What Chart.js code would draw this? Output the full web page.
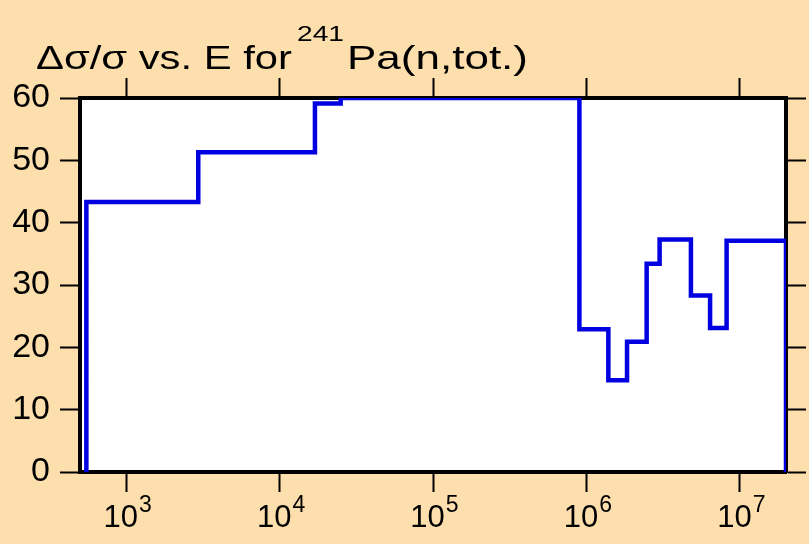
<!DOCTYPE html>
<html>
<head>
<meta charset="utf-8">
<script src="https://cdn.jsdelivr.net/npm/chart.js@4.4.1/dist/chart.umd.min.js"></script>
<style>
  html, body { margin: 0; padding: 0; background: #fddead; }
  #wrap { width: 809px; height: 544px; }
</style>
</head>
<body>
<div id="wrap"><canvas id="relErrChart" width="809" height="544"></canvas></div>
<script>
// bin lower edges (eV) and relative uncertainty (%) per bin
const binEdges = [550, 2950, 17000, 25000, 9.0e5, 1.39e6, 1.84e6, 2.47e6, 3.0e6, 4.8e6, 6.4e6, 8.2e6];
const binEnd = 2.0e7;
const relErr = [43.3, 51.3, 59.1, 60, 22.9, 14.7, 20.9, 33.4, 37.3, 28.3, 23.1, 37.1];
const decadeTicks = [1e3, 1e4, 1e5, 1e6, 1e7];
const decadeExp = ['3', '4', '5', '6', '7'];
const yTicks = [0, 10, 20, 30, 40, 50, 60];

const FONT = '"Liberation Sans", Arial, Helvetica, sans-serif';
const PEACH = '#fddead';

// step outline points (horizontal at bin value, vertical at each edge)
const stepPoints = [{ x: binEdges[0], y: 0 }]
    .concat(binEdges.map((e, i) => ({ x: e, y: relErr[i] })))
    .concat([{ x: binEnd, y: relErr[relErr.length - 1] }, { x: binEnd, y: 0 }]);

const onlyDecades = function(scale) {
    scale.ticks = decadeTicks.map(v => ({ value: v }));
};
const onlyYTicks = function(scale) {
    scale.ticks = yTicks.map(v => ({ value: v }));
};

// text squeezed/stretched to a given width (the original lettering is wide)
function fitText(ctx, text, x, y, width) {
    const w = ctx.measureText(text).width;
    ctx.save();
    ctx.translate(x, y);
    ctx.scale(width / w, 1);
    ctx.fillText(text, 0, 0);
    ctx.restore();
}

const backdrop = {
    id: 'backdrop',
    beforeDraw(chart) {
        const ctx = chart.ctx, a = chart.chartArea;
        ctx.save();
        ctx.fillStyle = PEACH;
        ctx.fillRect(0, 0, chart.width, chart.height);
        ctx.fillStyle = '#ffffff';
        ctx.fillRect(a.left, a.top, a.right - a.left, a.bottom - a.top);
        ctx.restore();
    }
};

const texts = {
    id: 'texts',
    afterDraw(chart) {
        const ctx = chart.ctx;
        ctx.save();
        ctx.fillStyle = '#000';
        ctx.textBaseline = 'alphabetic';
        ctx.textAlign = 'left';

        // title with superscript mass number
        ctx.font = '34px ' + FONT;
        fitText(ctx, '\u0394\u03c3/\u03c3 vs. E for', 36, 69, 256);
        ctx.font = '22px ' + FONT;
        fitText(ctx, '241', 297, 41, 47);
        ctx.font = '34px ' + FONT;
        fitText(ctx, 'Pa(n,tot.)', 347, 69, 181);

        // x tick labels 10^n
        const xs = chart.scales.x;
        decadeTicks.forEach((v, i) => {
            const px = xs.getPixelForValue(v);
            ctx.font = '31px ' + FONT;
            const w1 = ctx.measureText('10').width;
            ctx.font = '23px ' + FONT;
            const w2 = ctx.measureText(decadeExp[i]).width;
            const start = px - (w1 + w2) / 2 + 1;
            ctx.font = '31px ' + FONT;
            ctx.fillText('10', start, 527);
            ctx.font = '23px ' + FONT;
            ctx.fillText(decadeExp[i], start + w1 + 1, 512);
        });
        ctx.restore();
    }
};

const axisLook = {
    grid: { drawOnChartArea: false, drawTicks: true, tickLength: 20, tickWidth: 2, tickColor: '#000', color: '#000' },
    border: { display: true, color: '#000', width: 4 }
};

new Chart(document.getElementById('relErrChart'), {
    type: 'line',
    data: {
        datasets: [{
            data: stepPoints,
            stepped: 'before',
            borderColor: '#0000e0',
            borderWidth: 4.5,
            pointRadius: 0,
            fill: false
        }]
    },
    plugins: [backdrop, texts],
    options: {
        responsive: false,
        animation: false,
        events: [],
        layout: { padding: 0 },
        plugins: { legend: { display: false }, title: { display: false }, tooltip: { enabled: false } },
        scales: {
            x: {
                type: 'logarithmic', position: 'bottom', min: 500, max: binEnd,
                afterBuildTicks: onlyDecades,
                afterFit: s => { s.height = 72; },
                ticks: { display: false },
                ...axisLook
            },
            x2: {
                type: 'logarithmic', position: 'top', min: 500, max: binEnd,
                afterBuildTicks: onlyDecades,
                afterFit: s => { s.height = 98; },
                ticks: { display: false },
                ...axisLook
            },
            y: {
                position: 'left', min: 0, max: 60,
                afterBuildTicks: onlyYTicks,
                afterFit: s => { s.width = 80; },
                ticks: { color: '#000', padding: 10, font: { family: FONT, size: 34 } },
                ...axisLook
            },
            y2: {
                position: 'right', min: 0, max: 60,
                afterBuildTicks: onlyYTicks,
                afterFit: s => { s.width = 23; },
                ticks: { display: false },
                ...axisLook
            }
        }
    }
});
</script>
</body>
</html>
